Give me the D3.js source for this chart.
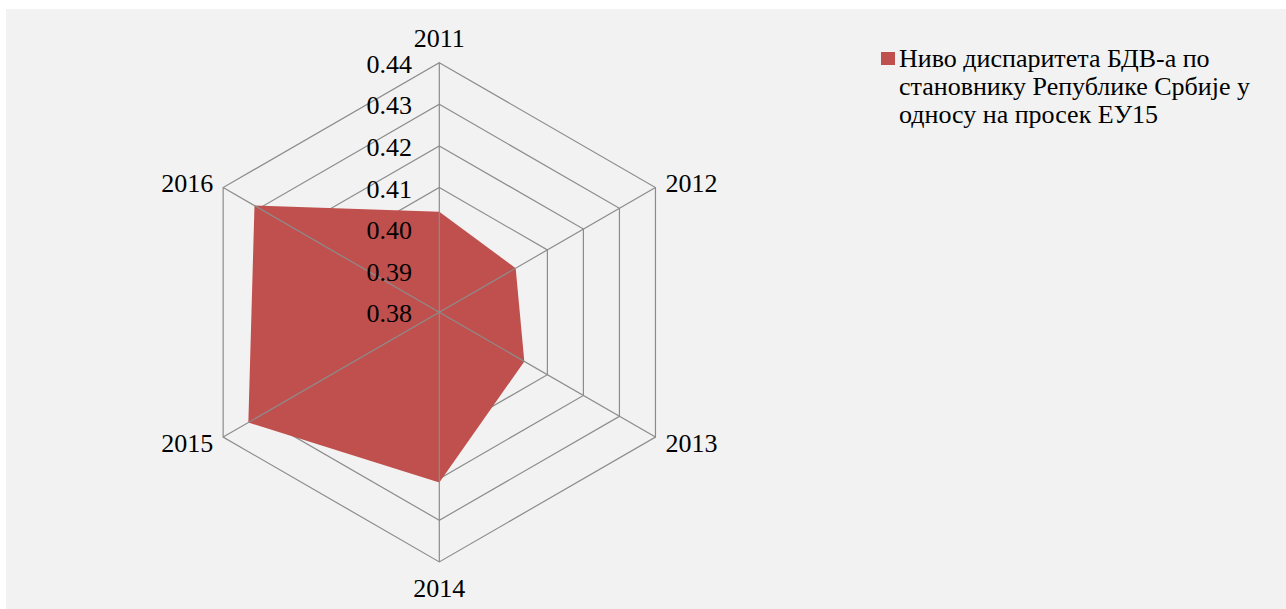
<!DOCTYPE html>
<html>
<head>
<meta charset="utf-8">
<script src="https://cdn.jsdelivr.net/npm/d3@7"></script>
<style>
  html, body { margin: 0; padding: 0; background: #ffffff; }
  svg { display: block; }
</style>
</head>
<body>
<svg id="chart" width="1286" height="609"></svg>
<script>
// Years on the radar spokes (clockwise from the top)
const years = ["2011", "2012", "2013", "2014", "2015", "2016"];
// GDP per capita disparity level relative to the EU15 average
const disparity = [0.4042, 0.4012, 0.4036, 0.4209, 0.4330, 0.4313];
// Radial axis ticks
const ticks = [0.38, 0.39, 0.40, 0.41, 0.42, 0.43, 0.44];
const tickLabels = ["0.38", "0.39", "0.40", "0.41", "0.42", "0.43", "0.44"];
const seriesName = ["Ниво диспаритета БДВ-а по", "становнику Републике Србије у", "односу на просек ЕУ15"];

const svg = d3.select("#chart");
const W = 1286, H = 609;
const cx = 439.3, cy = 312.3, R = 249.6;
const fontSize = 26;
const font = "'Liberation Serif', 'Times New Roman', Times, serif";

svg.append("rect").attr("x", 6).attr("y", 9).attr("width", W - 6).attr("height", H - 9).attr("fill", "#f2f2f2");

const r = d3.scaleLinear().domain([ticks[0], ticks[ticks.length - 1]]).range([0, R]);
const angle = d3.scalePoint().domain(years).range([0, 2 * Math.PI * (years.length - 1) / years.length]);

const g = svg.append("g").attr("transform", `translate(${cx},${cy})`);
const pt = (a, rad) => [rad * Math.sin(a), -rad * Math.cos(a)];

// Hexagonal rings
const ringLine = d3.lineRadial().angle(d => angle(d)).curve(d3.curveLinearClosed);
ticks.slice(1).forEach(t => {
  g.append("path")
    .attr("d", ringLine.radius(() => r(t))(years))
    .attr("fill", "none")
    .attr("stroke", "#8c8c8c")
    .attr("stroke-width", 1.2);
});

// Series area
const area = d3.lineRadial()
  .angle((d, i) => angle(years[i]))
  .radius(d => r(d))
  .curve(d3.curveLinearClosed);
g.append("path")
  .attr("d", area(disparity))
  .attr("fill", "#c0504d");

// Spokes
years.forEach(y => {
  const [x2, y2] = pt(angle(y), R);
  g.append("line")
    .attr("x1", 0).attr("y1", 0).attr("x2", x2).attr("y2", y2)
    .attr("stroke", "#8c8c8c").attr("stroke-width", 1.2);
});

// Radial tick labels along the top spoke
ticks.forEach((t, i) => {
  g.append("text")
    .attr("x", -27.3)
    .attr("y", -r(t) + 10)
    .attr("text-anchor", "end")
    .attr("font-family", font)
    .attr("font-size", fontSize)
    .text(tickLabels[i]);
});

// Category labels
years.forEach(y => {
  const a = angle(y);
  const [x, yy] = pt(a, R);
  const s = Math.sin(a), c = Math.cos(a);
  let anchor = "middle", dx = 0, base;
  if (Math.abs(s) < 0.01) {
    base = c > 0 ? yy - 16 : yy + 35;
  } else {
    anchor = s > 0 ? "start" : "end";
    dx = s > 0 ? 10 : -10;
    base = c > 0 ? yy + 4 : yy + 14.5;
  }
  g.append("text")
    .attr("x", x + dx)
    .attr("y", base)
    .attr("text-anchor", anchor)
    .attr("font-family", font)
    .attr("font-size", fontSize)
    .text(y);
});

// Legend
const lg = svg.append("g").attr("transform", "translate(881,52)");
lg.append("rect").attr("width", 14).attr("height", 13).attr("fill", "#c0504d");
seriesName.forEach((line, i) => {
  lg.append("text")
    .attr("x", 18)
    .attr("y", 14.7 + i * 28)
    .attr("font-family", font)
    .attr("font-size", fontSize)
    .text(line);
});
</script>
</body>
</html>
